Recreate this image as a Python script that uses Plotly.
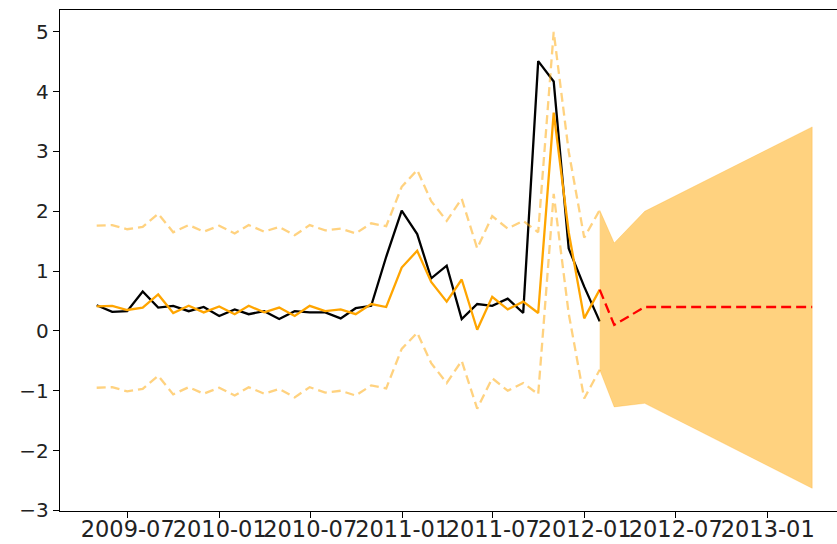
import pandas as pd
import plotly.graph_objects as go

# ---- data ----
hist_dates = pd.date_range("2009-04-30", "2012-01-31", freq="ME")
actual = [0.43, 0.32, 0.33, 0.66, 0.39, 0.42, 0.33, 0.40, 0.25, 0.36, 0.28, 0.33,
          0.20, 0.33, 0.31, 0.31, 0.21, 0.38, 0.42, 1.24, 2.01, 1.62, 0.88, 1.09,
          0.20, 0.45, 0.42, 0.54, 0.30, 4.51, 4.17, 1.38, 0.74, 0.16]
fitted = [0.41, 0.42, 0.35, 0.39, 0.61, 0.30, 0.42, 0.31, 0.41, 0.28, 0.42, 0.31,
          0.39, 0.25, 0.42, 0.33, 0.36, 0.28, 0.45, 0.40, 1.06, 1.34, 0.82, 0.49,
          0.86, 0.02, 0.57, 0.36, 0.49, 0.30, 3.65, 1.65, 0.21, 0.69]
upper_band = [1.76, 1.77, 1.70, 1.74, 1.96, 1.65, 1.77, 1.66, 1.76, 1.63, 1.77, 1.66,
              1.74, 1.60, 1.77, 1.68, 1.71, 1.63, 1.80, 1.75, 2.41, 2.69, 2.17, 1.84,
              2.21, 1.38, 1.92, 1.71, 1.84, 1.65, 5.00, 3.00, 1.56, 2.02]
lower_band = [-0.95, -0.94, -1.01, -0.97, -0.75, -1.06, -0.94, -1.05, -0.95, -1.08, -0.94, -1.05,
              -0.97, -1.11, -0.94, -1.03, -1.00, -1.08, -0.91, -0.96, -0.30, -0.03, -0.54, -0.87,
              -0.50, -1.30, -0.79, -1.00, -0.87, -1.06, 2.29, 0.29, -1.13, -0.65]

fc_dates = pd.to_datetime(["2012-01-31", "2012-02-29", "2012-04-30", "2013-03-31"])
fc_mean = [0.69, 0.10, 0.40, 0.40]
fc_upper = [2.02, 1.47, 2.00, 3.41]
fc_lower = [-0.65, -1.27, -1.21, -2.63]

x_tick_vals = pd.to_datetime(["2009-07-01", "2010-01-01", "2010-07-01", "2011-01-01",
                              "2011-07-01", "2012-01-01", "2012-07-01", "2013-01-01"])
x_tick_text = ["2009-07", "2010-01", "2010-07", "2011-01",
               "2011-07", "2012-01", "2012-07", "2013-01"]
y_tick_vals = [-3, -2, -1, 0, 1, 2, 3, 4, 5]
y_tick_text = ["\u22123", "\u22122", "\u22121", "0", "1", "2", "3", "4", "5"]

ORANGE = "#FFA500"
BAND = "rgba(255,165,0,0.5)"

fig = go.Figure()
fig.add_trace(go.Scatter(x=hist_dates, y=actual, mode="lines",
                         line=dict(color="black", width=2.3)))
fig.add_trace(go.Scatter(x=hist_dates, y=fitted, mode="lines",
                         line=dict(color=ORANGE, width=2.3)))
fig.add_trace(go.Scatter(x=hist_dates, y=upper_band, mode="lines",
                         line=dict(color=BAND, width=2.3, dash="9px,5px")))
fig.add_trace(go.Scatter(x=hist_dates, y=lower_band, mode="lines",
                         line=dict(color=BAND, width=2.3, dash="9px,5px")))
fig.add_trace(go.Scatter(x=list(fc_dates) + list(fc_dates[::-1]),
                         y=fc_upper + fc_lower[::-1],
                         mode="lines", fill="toself", fillcolor=BAND,
                         line=dict(color=BAND, width=0.5)))
fig.add_trace(go.Scatter(x=fc_dates, y=fc_mean, mode="lines",
                         line=dict(color="red", width=2.3, dash="10px,5px")))

x0 = pd.Timestamp("2009-07-01") - pd.Timedelta(days=135.4)
x1 = pd.Timestamp("2013-01-01") + pd.Timedelta(days=138.6)

fig.update_layout(
    width=837, height=544,
    margin=dict(l=60, r=0, t=10, b=33),
    paper_bgcolor="white", plot_bgcolor="white",
    showlegend=False,
    font=dict(family="DejaVu Sans", color="#222222"),
    xaxis=dict(range=[x0, x1], tickvals=x_tick_vals, ticktext=x_tick_text,
               tickangle=0, automargin=False, ticklabelstandoff=-8,
               showgrid=False, zeroline=False, showline=True, linecolor="black",
               linewidth=1.3, mirror=True, ticks="outside", ticklen=6,
               tickcolor="black", tickwidth=1.3, tickfont=dict(size=22.5)),
    yaxis=dict(range=[-3.01, 5.365], tickvals=y_tick_vals, ticktext=y_tick_text,
               automargin=False,
               showgrid=False, zeroline=False, showline=True, linecolor="black",
               linewidth=1.3, mirror=False, ticks="outside", ticklen=6,
               tickcolor="black", tickwidth=1.3, tickfont=dict(size=20)),
)

fig.write_html("out.html")
